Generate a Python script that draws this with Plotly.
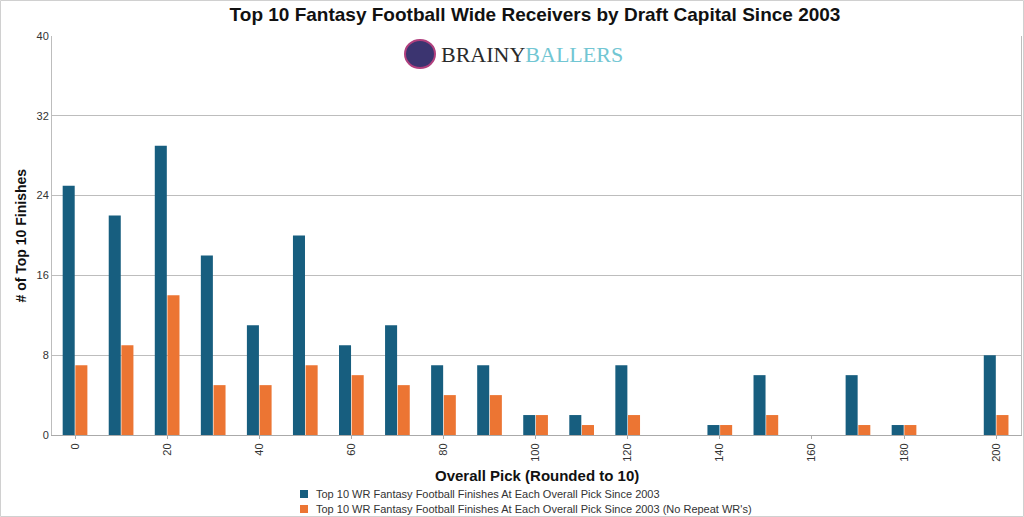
import plotly.graph_objects as go

picks = list(range(0, 201, 10))
all_finishes = [25, 22, 29, 18, 11, 20, 9, 11, 7, 7, 2, 2, 7, 0, 1, 6, 0, 6, 1, 0, 8]
no_repeat = [7, 9, 14, 5, 5, 7, 6, 5, 4, 4, 2, 1, 2, 0, 1, 2, 0, 1, 1, 0, 2]
series_names = [
    "Top 10 WR Fantasy Football Finishes At Each Overall Pick Since 2003",
    "Top 10 WR Fantasy Football Finishes At Each Overall Pick Since 2003 (No Repeat WR's)",
]
x_ticks = list(range(0, 201, 20))
y_ticks = [0, 8, 16, 24, 32, 40]

BLUE = "#175e7f"
ORANGE = "#ec7533"

# plot area in pixels: left 52, width 969, bottom 435, height 399
def px(x):
    return (x - 52) / 969


def py(y):
    return (435 - y) / 399


fig = go.Figure()

fig.add_trace(go.Bar(
    x=picks, y=all_finishes, name=series_names[0],
    marker=dict(color=BLUE, line=dict(width=0))
))

fig.add_trace(go.Bar(
    x=picks, y=no_repeat, name=series_names[1],
    marker=dict(color=ORANGE, line=dict(width=0))
))

# logo
fig.add_annotation(
    x=px(532), y=py(54), xref="paper", yref="paper",
    text="<span style='color:#2a2a2a'>BRAINY</span><span style='color:#72c6d3'>BALLERS</span>",
    showarrow=False, xanchor="center", yanchor="middle",
    font=dict(family="Liberation Serif, serif", size=22)
)
fig.add_shape(
    type="circle", xref="paper", yref="paper",
    x0=px(405), x1=px(435), y0=py(68), y1=py(40),
    fillcolor="#3b3470", line=dict(color="#b0407e", width=2)
)

# axis titles
fig.add_annotation(
    x=0.5, y=py(475), xref="paper", yref="paper",
    text="<b>Overall Pick (Rounded to 10)</b>", showarrow=False,
    xanchor="center", yanchor="middle",
    font=dict(size=15, color="#111")
)
fig.add_annotation(
    x=px(20), y=0.5, xref="paper", yref="paper",
    text="<b># of Top 10 Finishes</b>", showarrow=False, textangle=-90,
    xanchor="center", yanchor="middle",
    font=dict(size=14, color="#111")
)

# legend, drawn by hand for tight row spacing
for i, (name, color) in enumerate(zip(series_names, [BLUE, ORANGE])):
    yc = 494 + 15 * i
    fig.add_shape(
        type="rect", xref="paper", yref="paper",
        x0=px(300), x1=px(308), y0=py(yc + 4), y1=py(yc - 4),
        fillcolor=color, line=dict(width=0)
    )
    fig.add_annotation(
        x=px(314), y=py(yc), xref="paper", yref="paper",
        text=name, showarrow=False, xanchor="left", yanchor="middle",
        font=dict(size=11, color="#333")
    )

# outer frame
fig.add_shape(
    type="rect", xref="paper", yref="paper",
    x0=px(0.5), x1=px(1023.5), y0=py(516.5), y1=py(0.5),
    line=dict(color="#d0d0d0", width=1), fillcolor="rgba(0,0,0,0)"
)

fig.update_layout(
    width=1024,
    height=517,
    margin=dict(l=52, r=3, t=36, b=82, autoexpand=False),
    plot_bgcolor="white",
    paper_bgcolor="white",
    font=dict(family="Liberation Sans, Arial, sans-serif", color="#222"),
    title=dict(
        text="<b>Top 10 Fantasy Football Wide Receivers by Draft Capital Since 2003</b>",
        x=535 / 1024, xanchor="center", y=1 - 14 / 517, yanchor="middle",
        font=dict(size=19, color="#111")
    ),
    barmode="group",
    bargap=0.45,
    bargroupgap=0.05,
    showlegend=False,
    xaxis=dict(
        range=[-5, 205.4],
        tickvals=x_ticks,
        ticktext=[str(v) for v in x_ticks],
        tickangle=-90,
        tickfont=dict(size=11, color="#333"),
        showgrid=False,
        zeroline=False,
        showline=True,
        linecolor="#aaaaaa",
        ticks="outside",
        ticklen=3,
        tickcolor="#aaaaaa",
        automargin=False
    ),
    yaxis=dict(
        range=[0, 40],
        tickvals=y_ticks,
        tickfont=dict(size=11, color="#333"),
        showgrid=True,
        gridcolor="#bdbdbd",
        zeroline=False,
        showline=True,
        mirror=True,
        linecolor="#bdbdbd",
        ticks="",
        automargin=False
    )
)

fig.write_html(
    "out.html",
    config={"displayModeBar": False},
    post_script="document.body.style.margin='0';"
)
